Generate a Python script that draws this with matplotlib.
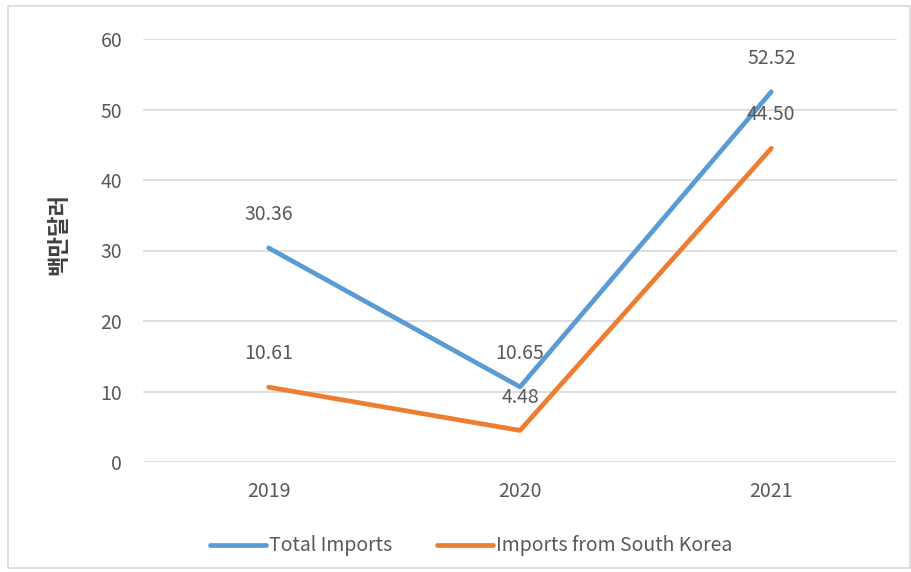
import matplotlib
matplotlib.use("Agg")
import matplotlib.pyplot as plt
from matplotlib.patches import Rectangle

plt.rcParams['font.family'] = ['Noto Sans CJK KR', 'DejaVu Sans']

years = ["2019", "2020", "2021"]
total_imports = [30.36, 10.65, 52.52]
korea_imports = [10.61, 4.48, 44.50]
series_names = ["Total Imports", "Imports from South Korea"]
y_ticks = [0, 10, 20, 30, 40, 50, 60]
y_label = "백만달러"

blue = "#5B9BD5"
orange = "#ED7D31"
text_c = "#595959"

fig = plt.figure(figsize=(9.12, 5.72), dpi=100)
fig.patches.append(Rectangle((8/912, 4/572), 902/912, 562/572, transform=fig.transFigure,
                             fill=False, edgecolor="#d9d9d9", linewidth=1.2))
ax = fig.add_axes([143/912, 1-462/572, 754/912, 423/572])
x = list(range(len(years)))
l1, = ax.plot(x, total_imports, color=blue, linewidth=3.4, solid_capstyle='round', label=series_names[0])
l2, = ax.plot(x, korea_imports, color=orange, linewidth=3.4, solid_capstyle='round', label=series_names[1])

for xi, v in zip(x, total_imports):
    ax.annotate(f"{v:.2f}", (xi, v), xytext=(0, 24), textcoords="offset points",
                ha="center", va="center", fontsize=14, color=text_c)
for xi, v in zip(x, korea_imports):
    ax.annotate(f"{v:.2f}", (xi, v), xytext=(0, 24), textcoords="offset points",
                ha="center", va="center", fontsize=14, color=text_c)

ax.set_xlim(-0.5, 2.5)
ax.set_ylim(0, 60)
ax.set_yticks(y_ticks)
ax.set_xticks(x)
ax.set_xticklabels(years)
ax.grid(axis='y', color="#d9d9d9", linewidth=1.2)
ax.set_axisbelow(True)
for s in ax.spines.values():
    s.set_visible(False)
ax.tick_params(axis='both', length=0, labelsize=14, labelcolor=text_c)
ax.tick_params(axis='y', pad=15)
ax.tick_params(axis='x', pad=14)
ax.set_ylabel(y_label, fontsize=16, color="#404040", fontweight='bold')
ax.yaxis.set_label_coords((70-143)/754, (462-234)/423)

fig.legend(handles=[l1, l2], labels=series_names, loc="center", bbox_to_anchor=(471/912, 1-546/572),
           ncol=2, frameon=False, fontsize=14, labelcolor=text_c, handlelength=2.9,
           handletextpad=0.15, columnspacing=2.3)

fig.savefig("out.png", dpi=100)
